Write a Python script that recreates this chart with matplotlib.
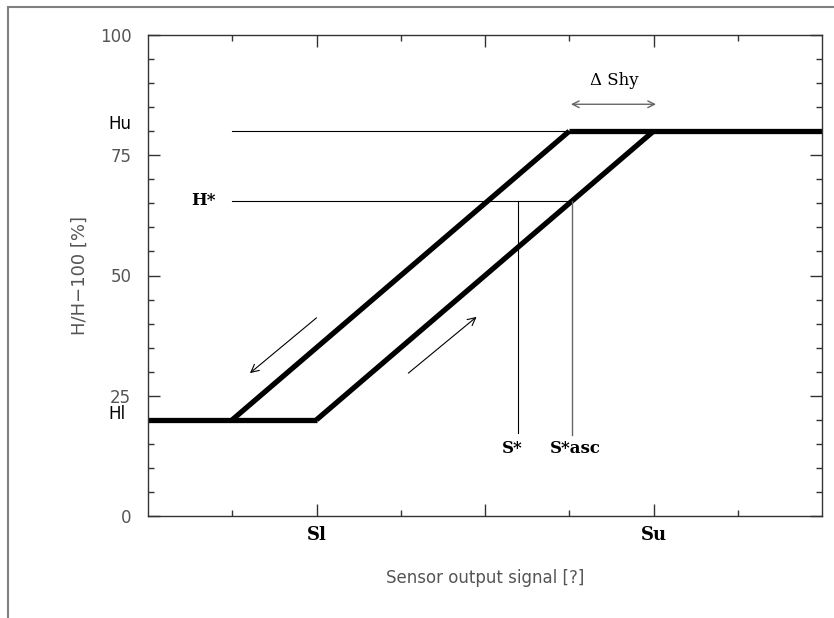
import matplotlib
matplotlib.use("Agg")
import matplotlib.pyplot as plt
from matplotlib.patches import Rectangle

# ---- data ----
low_plateau_x = [0, 2]
low_plateau_y = [20, 20]
high_plateau_x = [5, 8]
high_plateau_y = [80, 80]
desc_x = [1, 5]
desc_y = [20, 80]
asc_x = [2, 6]
asc_y = [20, 80]

Hu = 80
Hl = 20
H_star = 65.5
S_star = 4.39
S_star_asc = 5.03
S_bottom = 17.2

hu_line_x = [1, 5]
hstar_line_x = [1, 5.03]

desc_arrow = [(2.0, 41.2), (1.21, 29.7)]
asc_arrow = [(3.09, 29.7), (3.9, 41.4)]
shy_arrow = [(5.02, 85.6), (6.03, 85.6)]

y_major = [0, 25, 50, 75, 100]
y_minor = [5, 10, 15, 20, 30, 35, 40, 45, 55, 60, 65, 70, 80, 85, 90, 95]
x_major = [2, 4, 6]
x_major_labels = ["Sl", "", "Su"]
x_minor = [1, 3, 5, 7]

W, H = 834, 618
fig = plt.figure(figsize=(W / 100, H / 100), dpi=100)
fig.patches.append(Rectangle((8 / W, -0.1), 1.2, 1 - 7 / H + 0.1,
                             transform=fig.transFigure, fill=False,
                             edgecolor="#808080", linewidth=1.5))

ax = fig.add_axes([148 / W, (H - 516) / H, 674 / W, 481 / H])
ax.set_xlim(0, 8)
ax.set_ylim(0, 100)
for s in ax.spines.values():
    s.set_color("#333333")
    s.set_linewidth(1.0)

thick = dict(color="black", linewidth=3.8, solid_capstyle="butt", solid_joinstyle="miter")
ax.plot(low_plateau_x, low_plateau_y, **thick)
ax.plot(high_plateau_x, high_plateau_y, **thick)
ax.plot(desc_x, desc_y, **thick)
ax.plot(asc_x, asc_y, **thick)

ax.plot(hu_line_x, [Hu, Hu], color="black", linewidth=0.8)
ax.plot(hstar_line_x, [H_star, H_star], color="black", linewidth=0.8)
ax.plot([S_star, S_star], [S_bottom, H_star], color="black", linewidth=0.8)
ax.plot([S_star_asc, S_star_asc], [S_bottom - 0.4, H_star], color="#666666", linewidth=1.0)

ax.annotate("", xy=desc_arrow[1], xytext=desc_arrow[0],
            arrowprops=dict(arrowstyle="->", color="black", lw=0.8,
                            mutation_scale=14, shrinkA=0, shrinkB=0))
ax.annotate("", xy=asc_arrow[1], xytext=asc_arrow[0],
            arrowprops=dict(arrowstyle="->", color="black", lw=0.8,
                            mutation_scale=14, shrinkA=0, shrinkB=0))
ax.annotate("", xy=shy_arrow[1], xytext=shy_arrow[0],
            arrowprops=dict(arrowstyle="<->", color="#666666", lw=1.0,
                            mutation_scale=12, shrinkA=0, shrinkB=0))

serif = "DejaVu Serif"
ax.text(5.54, 90.6, "Δ Shy", family=serif, fontsize=12, ha="center", va="center")
ax.text(4.32, 14.1, "S*", family=serif, fontweight="bold", fontsize=12, ha="center", va="center")
ax.text(5.07, 14.1, "S*asc", family=serif, fontweight="bold", fontsize=12, ha="center", va="center")
ax.text(0.66, H_star, "H*", family=serif, fontweight="bold", fontsize=12, ha="center", va="center")
ax.text(-0.33, Hu + 1.5, "Hu", fontsize=12, ha="center", va="center", clip_on=False)
ax.text(-0.37, Hl + 1.2, "Hl", fontsize=12, ha="center", va="center", clip_on=False)

ax.set_yticks(y_major)
ax.set_yticks(y_minor, minor=True)
ax.set_xticks(x_major)
ax.set_xticklabels(x_major_labels, family=serif, fontweight="bold", fontsize=13)
ax.set_xticks(x_minor, minor=True)
ax.tick_params(axis="both", which="major", direction="in", length=8.5, width=1.0,
               color="#333333", top=True, right=True)
ax.tick_params(axis="both", which="minor", direction="in", length=4.5, width=1.0,
               color="#333333", top=True, right=True)
ax.tick_params(axis="y", which="major", labelsize=12, labelcolor="#555555", pad=12)
ax.tick_params(axis="x", which="major", pad=7)

ax.set_ylabel("H/H\u2212100 [%]", fontsize=13, color="#555555", labelpad=8)
ax.set_xlabel("Sensor output signal [?]", fontsize=12, color="#555555", labelpad=18)

fig.savefig("out.png", dpi=100)
